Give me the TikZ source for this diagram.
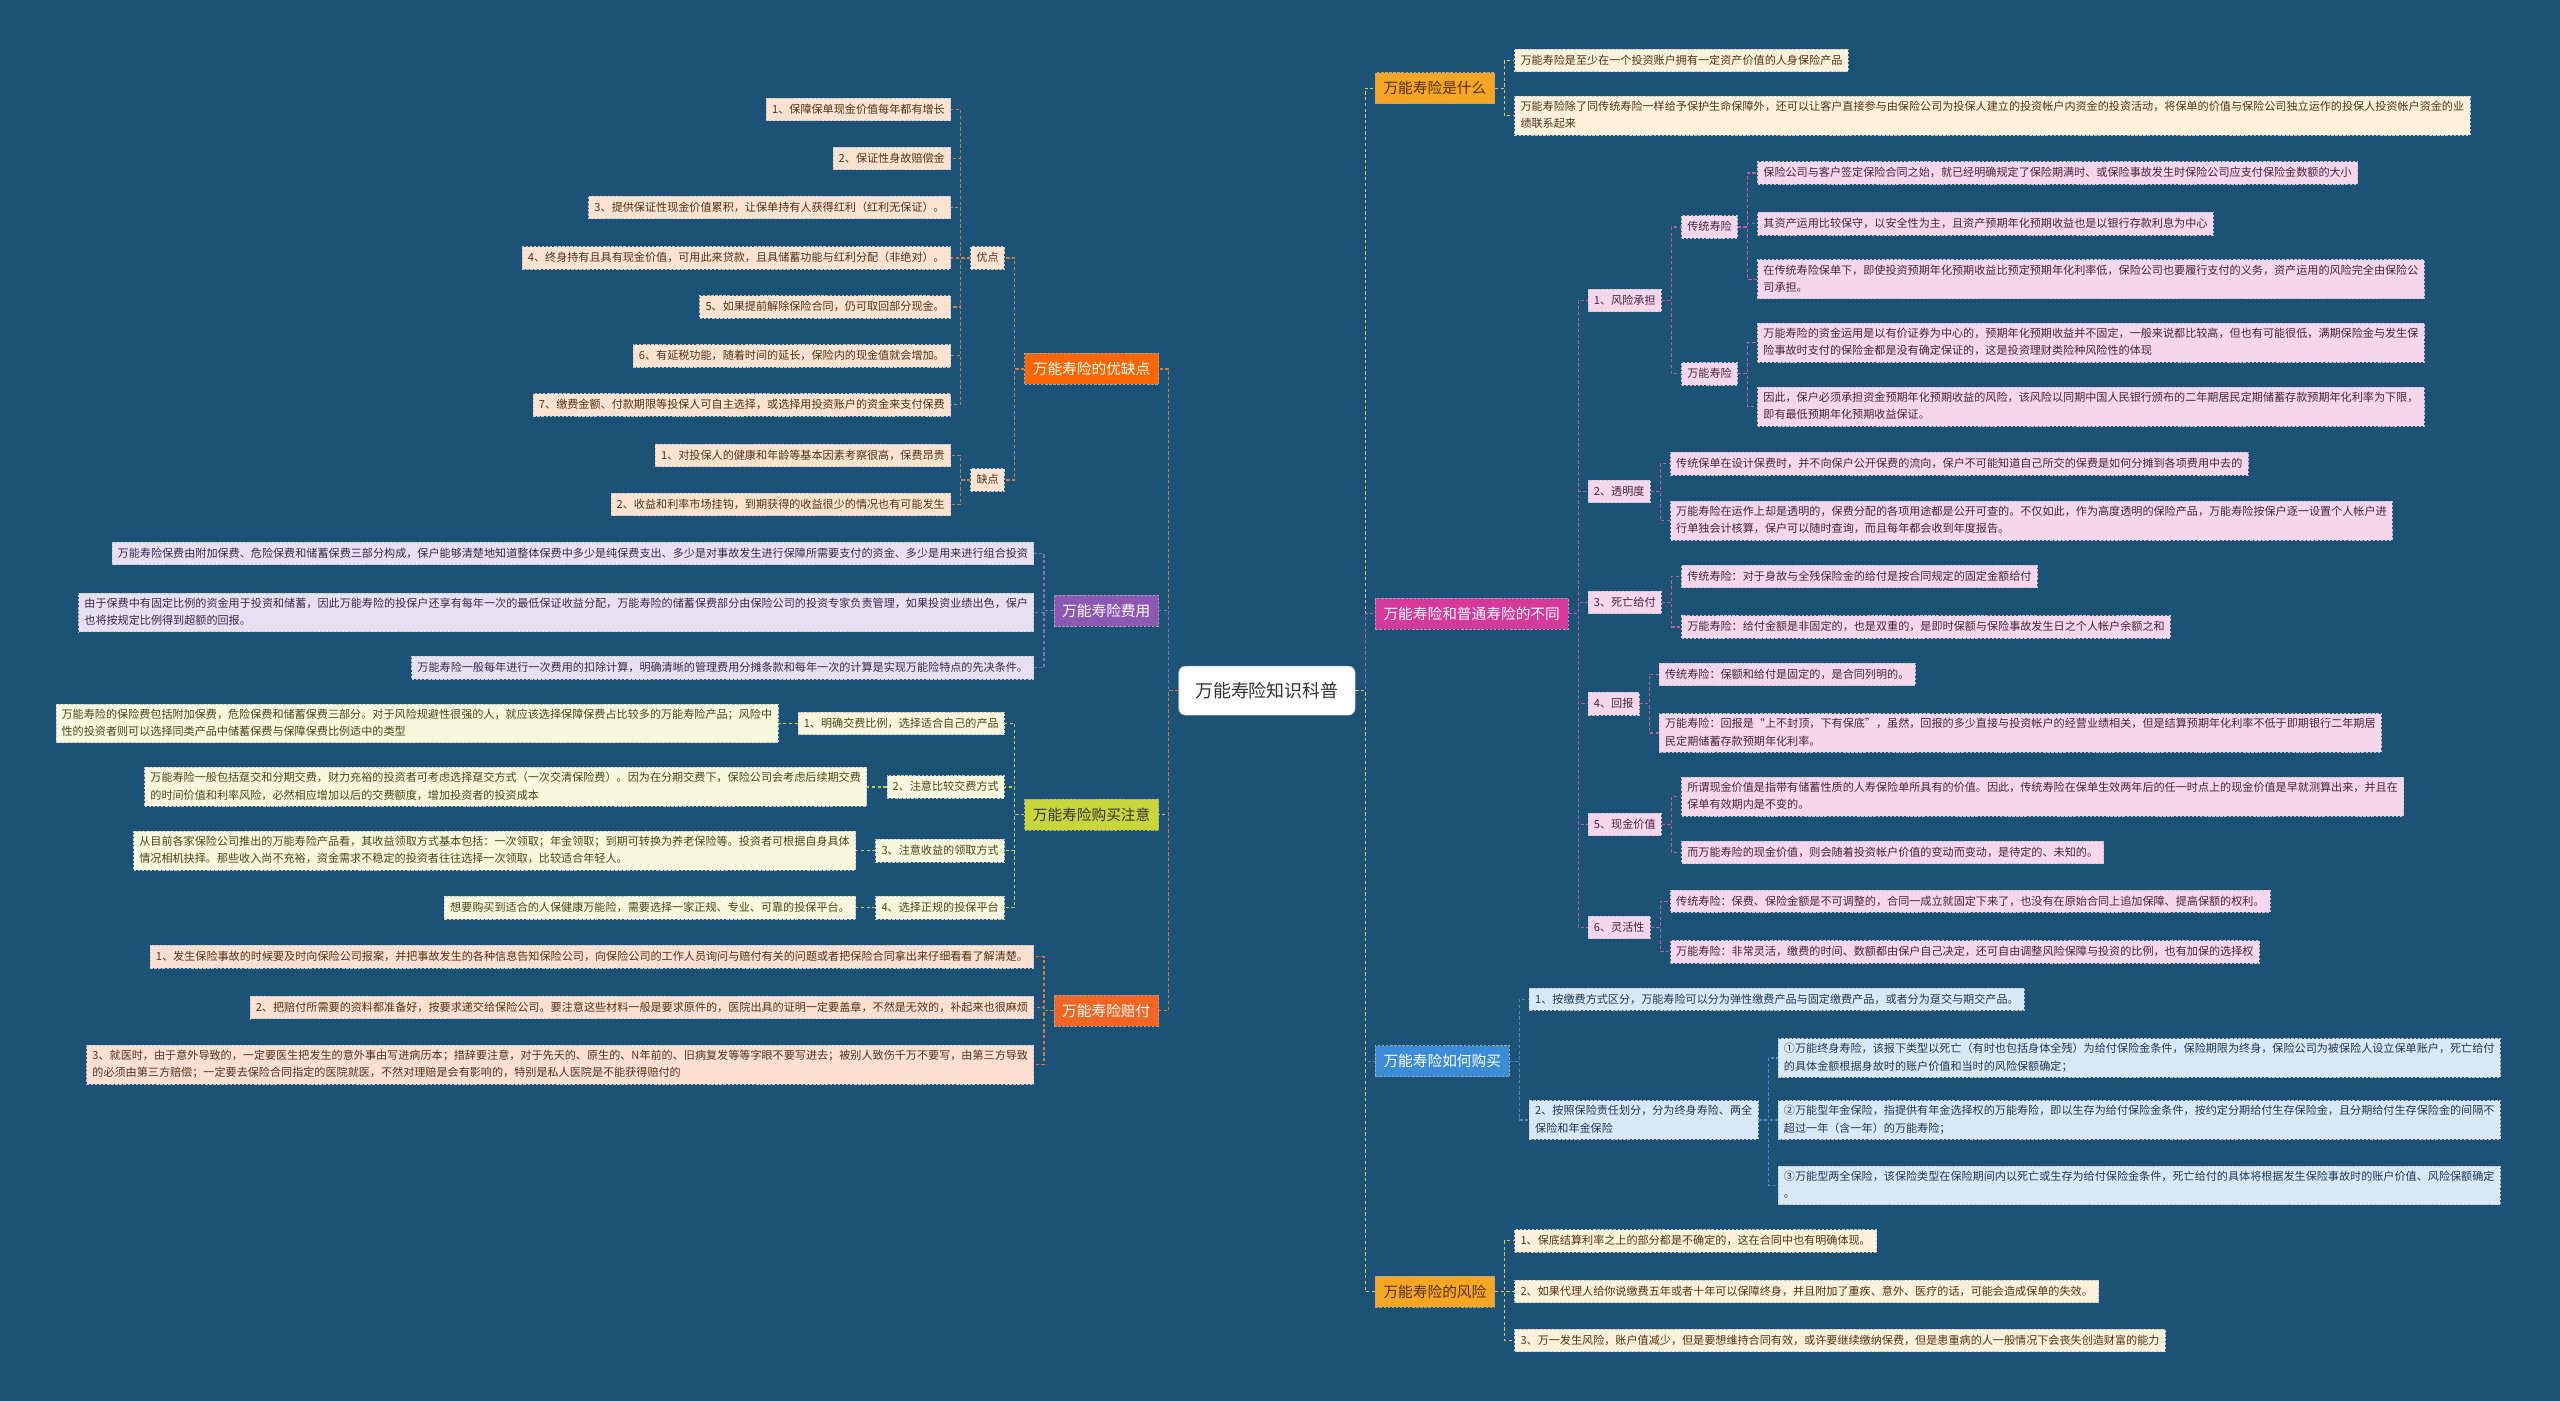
\documentclass[tikz,border=0pt]{standalone}
\usepackage{fontspec}
\setmainfont{Noto Sans CJK SC}
\newcommand{\mystrut}{\rule[-1.5pt]{0pt}{7.8pt}}
\definecolor{bg}{RGB}{27,82,117}
\definecolor{peachL}{RGB}{252,226,208}
\definecolor{peachP}{RGB}{253,224,210}
\definecolor{lav}{RGB}{230,224,240}
\definecolor{paleY}{RGB}{248,248,222}
\definecolor{cream}{RGB}{253,241,220}
\definecolor{pinkL}{RGB}{245,214,236}
\definecolor{lblue}{RGB}{216,232,246}
\definecolor{orA}{RGB}{255,102,0}
\definecolor{purB}{RGB}{140,88,180}
\definecolor{grnC}{RGB}{200,214,58}
\definecolor{orG}{RGB}{242,101,34}
\definecolor{yelD}{RGB}{246,166,35}
\definecolor{magE}{RGB}{214,56,156}
\definecolor{bluF}{RGB}{58,140,214}
\definecolor{lnA}{RGB}{200,130,80}
\definecolor{lnB}{RGB}{140,110,190}
\definecolor{lnC}{RGB}{190,205,80}
\definecolor{lnG}{RGB}{220,120,60}
\definecolor{lnD}{RGB}{232,196,90}
\definecolor{lnE}{RGB}{196,90,170}
\definecolor{lnF}{RGB}{80,140,200}
\definecolor{txBr}{RGB}{80,50,25}
\definecolor{txPu}{RGB}{55,40,75}
\definecolor{txGr}{RGB}{70,70,25}
\definecolor{txPk}{RGB}{70,35,60}
\definecolor{txBl}{RGB}{30,55,85}
\begin{document}
\begin{tikzpicture}[x=1pt,y=-1pt,
  box/.style={draw=white!78!black, dash pattern=on 1.5pt off 1pt, line width=0.4pt,
    inner xsep=3.5pt, inner ysep=3pt, font=\fontsize{6.8}{10.5}\selectfont, align=left,
    execute at begin node=\mystrut, execute at end node=\mystrut},
  mainbr/.style={draw=black!35, dash pattern=on 1.5pt off 1pt, line width=0.4pt,
    inner xsep=5pt, minimum height=19pt, font=\fontsize{9}{11}\selectfont},
  conn/.style={draw=#1, dash pattern=on 2pt off 1.5pt, line width=0.7pt},
  bA/.style={box, fill=peachL, text=txBr},
  bB/.style={box, fill=lav, text=txPu},
  bC/.style={box, fill=paleY, text=txGr},
  bG/.style={box, fill=peachP, text=txBr},
  bD/.style={box, fill=cream, text=txBr},
  bE/.style={box, fill=pinkL, text=txPk},
  bF/.style={box, fill=lblue, text=txBl},
  L/.style={anchor=east, xshift=-12pt},
  Rt/.style={anchor=west, xshift=12pt}
]
\useasboundingbox[fill=bg] (0,0) rectangle (1568,858);

% centre
\node[fill=white, draw=black!30, rounded corners=4pt, inner xsep=10pt, minimum height=30pt,
  font=\fontsize{11}{13}\selectfont, text=black!80] (R) at (776,423) {万能寿险知识科普};

% ================= LEFT =================
\node[mainbr, fill=orA, text=white, L] (A) at (R.west |- 0,226) {万能寿险的优缺点};
\node[mainbr, fill=purB, text=white, L] (B) at (R.west |- 0,374) {万能寿险费用};
\node[mainbr, fill=grnC, text=black!80, L] (C) at (R.west |- 0,499) {万能寿险购买注意};
\node[mainbr, fill=orG, text=white, L] (G) at (R.west |- 0,619) {万能寿险赔付};
\draw[conn=lnA] (R.west) -- ++(-6,0) |- (A.east);
\draw[conn=lnB] (R.west) -- ++(-6,0) |- (B.east);
\draw[conn=lnC] (R.west) -- ++(-6,0) |- (C.east);
\draw[conn=lnG] (R.west) -- ++(-6,0) |- (G.east);

% 优缺点
\node[bA, L] (A1) at (A.west |- 0,158) {优点};
\node[bA, L] (A2) at (A.west |- 0,294) {缺点};
\draw[conn=lnA] (A.west) -- ++(-6,0) |- (A1.east);
\draw[conn=lnA] (A.west) -- ++(-6,0) |- (A2.east);
\node[bA, L] (A11) at (A1.west |- 0,67) {1、保障保单现金价值每年都有增长};
\node[bA, L] (A12) at (A1.west |- 0,97) {2、保证性身故赔偿金};
\node[bA, L] (A13) at (A1.west |- 0,127) {3、提供保证性现金价值累积，让保单持有人获得红利（红利无保证）。};
\node[bA, L] (A14) at (A1.west |- 0,158) {4、终身持有且具有现金价值，可用此来贷款，且具储蓄功能与红利分配（非绝对）。};
\node[bA, L] (A15) at (A1.west |- 0,188) {5、如果提前解除保险合同，仍可取回部分现金。};
\node[bA, L] (A16) at (A1.west |- 0,218) {6、有延税功能，随着时间的延长，保险内的现金值就会增加。};
\node[bA, L] (A17) at (A1.west |- 0,248) {7、缴费金额、付款期限等投保人可自主选择，或选择用投资账户的资金来支付保费};
\foreach \n in {A11,A12,A13,A14,A15,A16,A17}{\draw[conn=lnA] (A1.west) -- ++(-6,0) |- (\n.east);}
\node[bA, L] (A21) at (A2.west |- 0,279) {1、对投保人的健康和年龄等基本因素考察很高，保费昂贵};
\node[bA, L] (A22) at (A2.west |- 0,309) {2、收益和利率市场挂钩，到期获得的收益很少的情况也有可能发生};
\foreach \n in {A21,A22}{\draw[conn=lnA] (A2.west) -- ++(-6,0) |- (\n.east);}

% 费用
\node[bB, L] (B1) at (B.west |- 0,339) {万能寿险保费由附加保费、危险保费和储蓄保费三部分构成，保户能够清楚地知道整体保费中多少是纯保费支出、多少是对事故发生进行保障所需要支付的资金、多少是用来进行组合投资};
\node[bB, L] (B2) at (B.west |- 0,375) {由于保费中有固定比例的资金用于投资和储蓄，因此万能寿险的投保户还享有每年一次的最低保证收益分配，万能寿险的储蓄保费部分由保险公司的投资专家负责管理，如果投资业绩出色，保户\\也将按规定比例得到超额的回报。};
\node[bB, L] (B3) at (B.west |- 0,409) {万能寿险一般每年进行一次费用的扣除计算，明确清晰的管理费用分摊条款和每年一次的计算是实现万能险特点的先决条件。};
\foreach \n in {B1,B2,B3}{\draw[conn=lnB] (B.west) -- ++(-6,0) |- (\n.east);}

% 购买注意
\node[bC, L] (C1) at (C.west |- 0,443) {1、明确交费比例，选择适合自己的产品};
\node[bC, L] (C2) at (C.west |- 0,482) {2、注意比较交费方式};
\node[bC, L] (C3) at (C.west |- 0,521) {3、注意收益的领取方式};
\node[bC, L] (C4) at (C.west |- 0,556) {4、选择正规的投保平台};
\foreach \n in {C1,C2,C3,C4}{\draw[conn=lnC] (C.west) -- ++(-6,0) |- (\n.east);}
\node[bC, L] (C1a) at (C1.west) {万能寿险的保险费包括附加保费，危险保费和储蓄保费三部分。对于风险规避性很强的人，就应该选择保障保费占比较多的万能寿险产品；风险中\\性的投资者则可以选择同类产品中储蓄保费与保障保费比例适中的类型};
\node[bC, L] (C2a) at (C2.west) {万能寿险一般包括趸交和分期交费，财力充裕的投资者可考虑选择趸交方式（一次交清保险费）。因为在分期交费下，保险公司会考虑后续期交费\\的时间价值和利率风险，必然相应增加以后的交费额度，增加投资者的投资成本};
\node[bC, L] (C3a) at (C3.west) {从目前各家保险公司推出的万能寿险产品看，其收益领取方式基本包括：一次领取；年金领取；到期可转换为养老保险等。投资者可根据自身具体\\情况相机抉择。那些收入尚不充裕，资金需求不稳定的投资者往往选择一次领取，比较适合年轻人。};
\node[bC, L] (C4a) at (C4.west) {想要购买到适合的人保健康万能险，需要选择一家正规、专业、可靠的投保平台。};
\draw[conn=lnC] (C1.west) -- (C1a.east);
\draw[conn=lnC] (C2.west) -- (C2a.east);
\draw[conn=lnC] (C3.west) -- (C3a.east);
\draw[conn=lnC] (C4.west) -- (C4a.east);

% 赔付
\node[bG, L] (G1) at (G.west |- 0,586) {1、发生保险事故的时候要及时向保险公司报案，并把事故发生的各种信息告知保险公司，向保险公司的工作人员询问与赔付有关的问题或者把保险合同拿出来仔细看看了解清楚。};
\node[bG, L] (G2) at (G.west |- 0,617) {2、把赔付所需要的资料都准备好，按要求递交给保险公司。要注意这些材料一般是要求原件的，医院出具的证明一定要盖章，不然是无效的，补起来也很麻烦};
\node[bG, L] (G3) at (G.west |- 0,652) {3、就医时，由于意外导致的，一定要医生把发生的意外事由写进病历本；措辞要注意，对于先天的、原生的、N年前的、旧病复发等等字眼不要写进去；被别人致伤千万不要写，由第三方导致\\的必须由第三方赔偿；一定要去保险合同指定的医院就医，不然对理赔是会有影响的，特别是私人医院是不能获得赔付的};
\foreach \n in {G1,G2,G3}{\draw[conn=lnG] (G.west) -- ++(-6,0) |- (\n.east);}

% ================= RIGHT =================
\node[mainbr, fill=yelD, text=txBr, Rt] (D) at (R.east |- 0,54) {万能寿险是什么};
\node[mainbr, fill=magE, text=white, Rt] (E) at (R.east |- 0,376) {万能寿险和普通寿险的不同};
\node[mainbr, fill=bluF, text=white, Rt] (F) at (R.east |- 0,650) {万能寿险如何购买};
\node[mainbr, fill=yelD, text=txBr, Rt] (H) at (R.east |- 0,791) {万能寿险的风险};
\draw[conn=lnD] (R.east) -- ++(6,0) |- (D.west);
\draw[conn=lnE] (R.east) -- ++(6,0) |- (E.west);
\draw[conn=lnF] (R.east) -- ++(6,0) |- (F.west);
\draw[conn=lnD] (R.east) -- ++(6,0) |- (H.west);

% 是什么
\node[bD, Rt] (D1) at (D.east |- 0,37) {万能寿险是至少在一个投资账户拥有一定资产价值的人身保险产品};
\node[bD, Rt] (D2) at (D.east |- 0,71) {万能寿险除了同传统寿险一样给予保护生命保障外，还可以让客户直接参与由保险公司为投保人建立的投资帐户内资金的投资活动，将保单的价值与保险公司独立运作的投保人投资帐户资金的业\\绩联系起来};
\foreach \n in {D1,D2}{\draw[conn=lnD] (D.east) -- ++(6,0) |- (\n.west);}

% 不同
\node[bE, Rt] (E1) at (E.east |- 0,184) {1、风险承担};
\node[bE, Rt] (E2) at (E.east |- 0,301) {2、透明度};
\node[bE, Rt] (E3) at (E.east |- 0,369) {3、死亡给付};
\node[bE, Rt] (E4) at (E.east |- 0,431) {4、回报};
\node[bE, Rt] (E5) at (E.east |- 0,505) {5、现金价值};
\node[bE, Rt] (E6) at (E.east |- 0,568) {6、灵活性};
\foreach \n in {E1,E2,E3,E4,E5,E6}{\draw[conn=lnE] (E.east) -- ++(6,0) |- (\n.west);}
\node[bE, Rt] (E1a) at (E1.east |- 0,139) {传统寿险};
\node[bE, Rt] (E1b) at (E1.east |- 0,229) {万能寿险};
\foreach \n in {E1a,E1b}{\draw[conn=lnE] (E1.east) -- ++(6,0) |- (\n.west);}
\node[bE, Rt] (E1a1) at (E1a.east |- 0,106) {保险公司与客户签定保险合同之始，就已经明确规定了保险期满时、或保险事故发生时保险公司应支付保险金数额的大小};
\node[bE, Rt] (E1a2) at (E1a.east |- 0,137) {其资产运用比较保守，以安全性为主，且资产预期年化预期收益也是以银行存款利息为中心};
\node[bE, Rt] (E1a3) at (E1a.east |- 0,171) {在传统寿险保单下，即使投资预期年化预期收益比预定预期年化利率低，保险公司也要履行支付的义务，资产运用的风险完全由保险公\\司承担。};
\foreach \n in {E1a1,E1a2,E1a3}{\draw[conn=lnE] (E1a.east) -- ++(6,0) |- (\n.west);}
\node[bE, Rt] (E1b1) at (E1b.east |- 0,210) {万能寿险的资金运用是以有价证券为中心的，预期年化预期收益并不固定，一般来说都比较高，但也有可能很低，满期保险金与发生保\\险事故时支付的保险金都是没有确定保证的，这是投资理财类险种风险性的体现};
\node[bE, Rt] (E1b2) at (E1b.east |- 0,249) {因此，保户必须承担资金预期年化预期收益的风险，该风险以同期中国人民银行颁布的二年期居民定期储蓄存款预期年化利率为下限，\\即有最低预期年化预期收益保证。};
\foreach \n in {E1b1,E1b2}{\draw[conn=lnE] (E1b.east) -- ++(6,0) |- (\n.west);}
\node[bE, Rt] (E21) at (E2.east |- 0,284) {传统保单在设计保费时，并不向保户公开保费的流向，保户不可能知道自己所交的保费是如何分摊到各项费用中去的};
\node[bE, Rt] (E22) at (E2.east |- 0,319) {万能寿险在运作上却是透明的，保费分配的各项用途都是公开可查的。不仅如此，作为高度透明的保险产品，万能寿险按保户逐一设置个人帐户进\\行单独会计核算，保户可以随时查询，而且每年都会收到年度报告。};
\foreach \n in {E21,E22}{\draw[conn=lnE] (E2.east) -- ++(6,0) |- (\n.west);}
\node[bE, Rt] (E31) at (E3.east |- 0,353) {传统寿险：对于身故与全残保险金的给付是按合同规定的固定金额给付};
\node[bE, Rt] (E32) at (E3.east |- 0,384) {万能寿险：给付金额是非固定的，也是双重的，是即时保额与保险事故发生日之个人帐户余额之和};
\foreach \n in {E31,E32}{\draw[conn=lnE] (E3.east) -- ++(6,0) |- (\n.west);}
\node[bE, Rt] (E41) at (E4.east |- 0,413) {传统寿险：保额和给付是固定的，是合同列明的。};
\node[bE, Rt] (E42) at (E4.east |- 0,449) {万能寿险：回报是“上不封顶，下有保底”，虽然，回报的多少直接与投资帐户的经营业绩相关，但是结算预期年化利率不低于即期银行二年期居\\民定期储蓄存款预期年化利率。};
\foreach \n in {E41,E42}{\draw[conn=lnE] (E4.east) -- ++(6,0) |- (\n.west);}
\node[bE, Rt] (E51) at (E5.east |- 0,488) {所谓现金价值是指带有储蓄性质的人寿保险单所具有的价值。因此，传统寿险在保单生效两年后的任一时点上的现金价值是早就测算出来，并且在\\保单有效期内是不变的。};
\node[bE, Rt] (E52) at (E5.east |- 0,522) {而万能寿险的现金价值，则会随着投资帐户价值的变动而变动，是待定的、未知的。};
\foreach \n in {E51,E52}{\draw[conn=lnE] (E5.east) -- ++(6,0) |- (\n.west);}
\node[bE, Rt] (E61) at (E6.east |- 0,552) {传统寿险：保费、保险金额是不可调整的，合同一成立就固定下来了，也没有在原始合同上追加保障、提高保额的权利。};
\node[bE, Rt] (E62) at (E6.east |- 0,583) {万能寿险：非常灵活，缴费的时间、数额都由保户自己决定，还可自由调整风险保障与投资的比例，也有加保的选择权};
\foreach \n in {E61,E62}{\draw[conn=lnE] (E6.east) -- ++(6,0) |- (\n.west);}

% 如何购买
\node[bF, Rt] (F1) at (F.east |- 0,612) {1、按缴费方式区分，万能寿险可以分为弹性缴费产品与固定缴费产品，或者分为趸交与期交产品。};
\node[bF, Rt] (F2) at (F.east |- 0,686) {2、按照保险责任划分，分为终身寿险、两全\\保险和年金保险};
\foreach \n in {F1,F2}{\draw[conn=lnF] (F.east) -- ++(6,0) |- (\n.west);}
\node[bF, Rt] (F2a) at (F2.east |- 0,648) {①万能终身寿险，该报下类型以死亡（有时也包括身体全残）为给付保险金条件，保险期限为终身，保险公司为被保险人设立保单账户，死亡给付\\的具体金额根据身故时的账户价值和当时的风险保额确定；};
\node[bF, Rt] (F2b) at (F2.east |- 0,686) {②万能型年金保险，指提供有年金选择权的万能寿险，即以生存为给付保险金条件，按约定分期给付生存保险金，且分期给付生存保险金的间隔不\\超过一年（含一年）的万能寿险；};
\node[bF, Rt] (F2c) at (F2.east |- 0,726) {③万能型两全保险，该保险类型在保险期间内以死亡或生存为给付保险金条件，死亡给付的具体将根据发生保险事故时的账户价值、风险保额确定\\。};
\foreach \n in {F2a,F2b,F2c}{\draw[conn=lnF] (F2.east) -- ++(6,0) |- (\n.west);}

% 风险
\node[bD, Rt] (H1) at (H.east |- 0,760) {1、保底结算利率之上的部分都是不确定的，这在合同中也有明确体现。};
\node[bD, Rt] (H2) at (H.east |- 0,791) {2、如果代理人给你说缴费五年或者十年可以保障终身，并且附加了重疾、意外、医疗的话，可能会造成保单的失效。};
\node[bD, Rt] (H3) at (H.east |- 0,821) {3、万一发生风险，账户值减少，但是要想维持合同有效，或许要继续缴纳保费，但是患重病的人一般情况下会丧失创造财富的能力};
\foreach \n in {H1,H2,H3}{\draw[conn=lnD] (H.east) -- ++(6,0) |- (\n.west);}
\end{tikzpicture}
\end{document}
